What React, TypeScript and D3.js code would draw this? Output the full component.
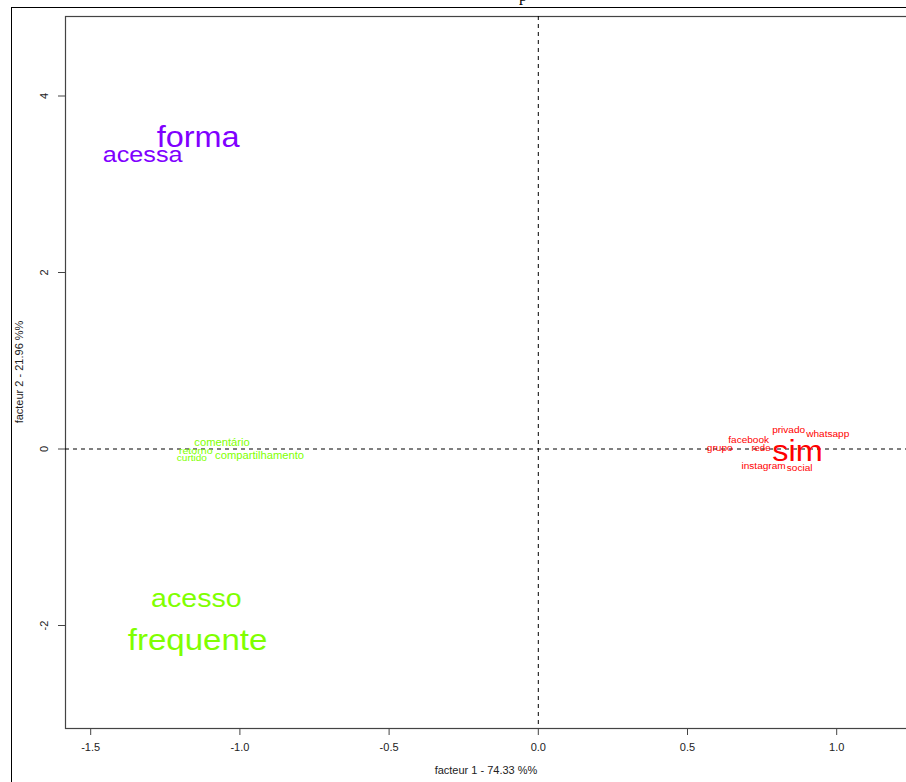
import React from 'react'
import * as d3 from 'd3'

// words of the CA text plot, their coordinates on factor 1 / factor 2, cluster and cex
const words = ['forma', 'acessa', 'acesso', 'frequente', 'comentário', 'retorno', 'curtido', 'compartilhamento',
  'sim', 'privado', 'whatsapp', 'facebook', 'grupo', 'rede', 'instagram', 'social']
const factor1 = [-1.140, -1.326, -1.146, -1.142, -1.060, -1.148, -1.161, -0.934,
  0.869, 0.839, 0.970, 0.705, 0.608, 0.746, 0.755, 0.876]
const factor2 = [3.533, 3.34, -1.689, -2.164, 0.079, -0.023, -0.102, -0.068,
  -0.028, 0.215, 0.170, 0.102, 0.011, 0.011, -0.193, -0.215]
const cluster = [3, 3, 1, 1, 1, 1, 1, 1, 0, 0, 0, 0, 0, 0, 0, 0]
const cex = [2.9, 2.25, 2.55, 2.95, 1.0, 0.95, 0.9, 1.0, 2.9, 0.9, 0.9, 0.9, 0.9, 0.85, 0.9, 0.9]

const xTicks = [-1.5, -1.0, -0.5, 0.0, 0.5, 1.0]
const yTicks = [-2, 0, 2, 4]
const xTitle = 'facteur  1  - 74.33 %%'
const yTitle = 'facteur  2  - 21.96 %%'
const titleText = 'p'

const W = 906
const H = 782

export default function App() {
  const margin = { top: 16, left: 65, right: 908, bottom: 728 }

  const x = d3.scaleLinear().domain([-1.5, 1.0]).range([90.7, 836.7])
  const y = d3.scaleLinear().domain([-2, 4]).range([625.5, 96])
  const size = d3.scaleLinear().domain([0, 1]).range([0, 10])
  const color = d3.scaleOrdinal<number, string>()
    .domain([0, 1, 2, 3])
    .range(['#FF0000', '#80FF00', '#00FFFF', '#8000FF'])

  const font = 'Arial, "Liberation Sans", sans-serif'

  return (
    <svg width={W} height={H} style={{ position: 'absolute', left: 0, top: 0, background: '#fff' }}>
      {/* title, mostly cut off above the picture */}
      <text x={519} y={1} fontFamily='"Liberation Serif", serif' fontSize={16} fill="#000">{titleText}</text>

      {/* outer frame */}
      <rect x={11.5} y={7.5} width={W} height={H} fill="none" stroke="#000" strokeWidth={1} />

      {/* plot box */}
      <rect x={margin.left + 0.5} y={margin.top + 0.5} width={margin.right - margin.left} height={margin.bottom - margin.top}
        fill="none" stroke="#444" strokeWidth={1.2} />

      {/* reference lines */}
      <line x1={x(0)} x2={x(0)} y1={margin.top} y2={margin.bottom} stroke="#000" strokeDasharray="4,4" />
      <line x1={margin.left} x2={margin.right} y1={y(0)} y2={y(0)} stroke="#000" strokeDasharray="4,4" />

      {/* x axis */}
      {xTicks.map(t => (
        <g key={'x' + t}>
          <line x1={x(t)} x2={x(t)} y1={margin.bottom} y2={margin.bottom + 7} stroke="#444" />
          <text x={x(t)} y={margin.bottom + 23} textAnchor="middle" fontFamily={font} fontSize={11} fill="#222">
            {d3.format('.1f')(t).replace('−', '-')}
          </text>
        </g>
      ))}
      <text x={486} y={774} textAnchor="middle" fontFamily={font} fontSize={11} fill="#222">{xTitle}</text>

      {/* y axis */}
      {yTicks.map(t => (
        <g key={'y' + t}>
          <line x1={margin.left - 7} x2={margin.left} y1={y(t)} y2={y(t)} stroke="#444" />
          <text transform={`translate(${margin.left - 17},${y(t)}) rotate(-90)`} textAnchor="middle"
            fontFamily={font} fontSize={11} fill="#222">{String(t)}</text>
        </g>
      ))}
      <text transform={`translate(23,372) rotate(-90)`} textAnchor="middle" fontFamily={font} fontSize={11} fill="#222">{yTitle}</text>

      {/* words */}
      {words.map((w, i) => (
        <text key={w}
          transform={`translate(${x(factor1[i])},${y(factor2[i])}) scale(1.12,1)`}
          textAnchor="middle" dominantBaseline="central"
          fontFamily={font} fontSize={size(cex[i])} fill={color(cluster[i])}>
          {w}
        </text>
      ))}
    </svg>
  )
}
